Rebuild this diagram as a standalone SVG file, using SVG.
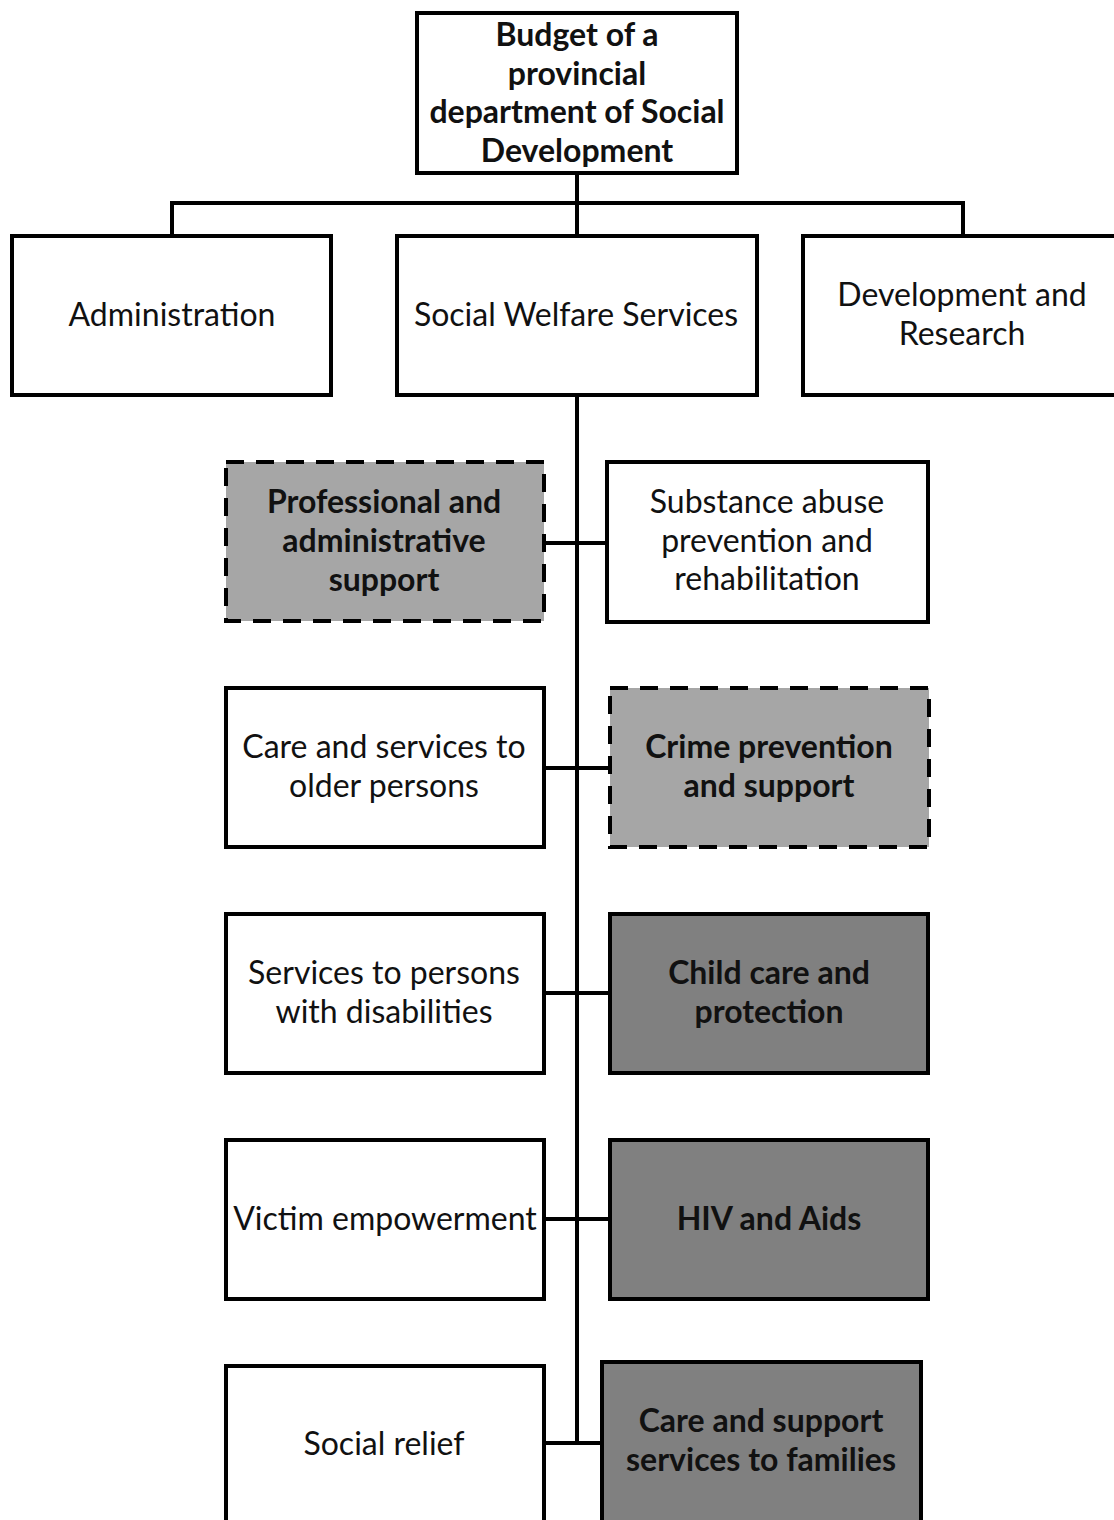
<svg xmlns="http://www.w3.org/2000/svg" width="1114" height="1520" viewBox="0 0 1114 1520">
  <style>
    .box { fill: #ffffff; stroke: #000000; stroke-width: 4; }
    .light { fill: #a6a6a6; stroke: #000000; stroke-width: 4; stroke-dasharray: 18 12; }
    .dark { fill: #808080; stroke: #000000; stroke-width: 4; }
    .wire { fill: none; stroke: #000000; stroke-width: 4; }
    text { font-family: Lato, "Open Sans", "Liberation Sans", sans-serif; font-size: 32px; fill: #111111; text-anchor: middle; }
    .b { font-weight: bold; }
  </style>

  <rect width="1114" height="1520" fill="#ffffff"/>

  <g id="connectors">
    <path class="wire" d="M577 173 V236 M172 236 V203 H963 V236"/>
    <path class="wire" d="M577 395 V1443"/>
    <path class="wire" d="M544 543 H607"/>
    <path class="wire" d="M544 768 H609"/>
    <path class="wire" d="M544 993 H609"/>
    <path class="wire" d="M544 1219 H609"/>
    <path class="wire" d="M544 1443 H602"/>
  </g>

  <g id="budget">
    <rect class="box" x="417" y="13" width="320" height="160"/>
    <text class="b" x="577" y="46">Budget of a</text>
    <text class="b" x="577" y="85">provincial</text>
    <text class="b" x="577" y="123">department of Social</text>
    <text class="b" x="577" y="162">Development</text>
  </g>

  <g id="administration">
    <rect class="box" x="12" y="236" width="319" height="159"/>
    <text x="172" y="326">Administration</text>
  </g>

  <g id="social-welfare-services">
    <rect class="box" x="397" y="236" width="360" height="159"/>
    <text x="576" y="326">Social Welfare Services</text>
  </g>

  <g id="development-research">
    <rect class="box" x="803" y="236" width="330" height="159"/>
    <text x="962" y="306">Development and</text>
    <text x="962" y="345">Research</text>
  </g>

  <g id="professional-support">
    <rect class="light" x="226" y="462" width="318" height="159"/>
    <text class="b" x="384" y="513">Professional and</text>
    <text class="b" x="384" y="552">administrative</text>
    <text class="b" x="384" y="591">support</text>
  </g>

  <g id="substance-abuse">
    <rect class="box" x="607" y="462" width="321" height="160"/>
    <text x="767" y="513">Substance abuse</text>
    <text x="767" y="552">prevention and</text>
    <text x="767" y="590">rehabilitation</text>
  </g>

  <g id="older-persons">
    <rect class="box" x="226" y="688" width="318" height="159"/>
    <text x="384" y="758">Care and services to</text>
    <text x="384" y="797">older persons</text>
  </g>

  <g id="crime-prevention">
    <rect class="light" x="610" y="688" width="319" height="159"/>
    <text class="b" x="769" y="758">Crime prevention</text>
    <text class="b" x="769" y="797">and support</text>
  </g>

  <g id="disabilities">
    <rect class="box" x="226" y="914" width="318" height="159"/>
    <text x="384" y="984">Services  to persons</text>
    <text x="384" y="1023">with disabilities</text>
  </g>

  <g id="child-care">
    <rect class="dark" x="610" y="914" width="318" height="159"/>
    <text class="b" x="769" y="984">Child care and</text>
    <text class="b" x="769" y="1023">protection</text>
  </g>

  <g id="victim-empowerment">
    <rect class="box" x="226" y="1140" width="318" height="159"/>
    <text x="385" y="1230">Victim empowerment</text>
  </g>

  <g id="hiv-aids">
    <rect class="dark" x="610" y="1140" width="318" height="159"/>
    <text class="b" x="769" y="1230">HIV and Aids</text>
  </g>

  <g id="social-relief">
    <rect class="box" x="226" y="1366" width="318" height="165"/>
    <text x="384" y="1455">Social relief</text>
  </g>

  <g id="family-services">
    <rect class="dark" x="602" y="1362" width="319" height="169"/>
    <text class="b" x="761" y="1432">Care and support</text>
    <text class="b" x="761" y="1471">services to families</text>
  </g>
</svg>
